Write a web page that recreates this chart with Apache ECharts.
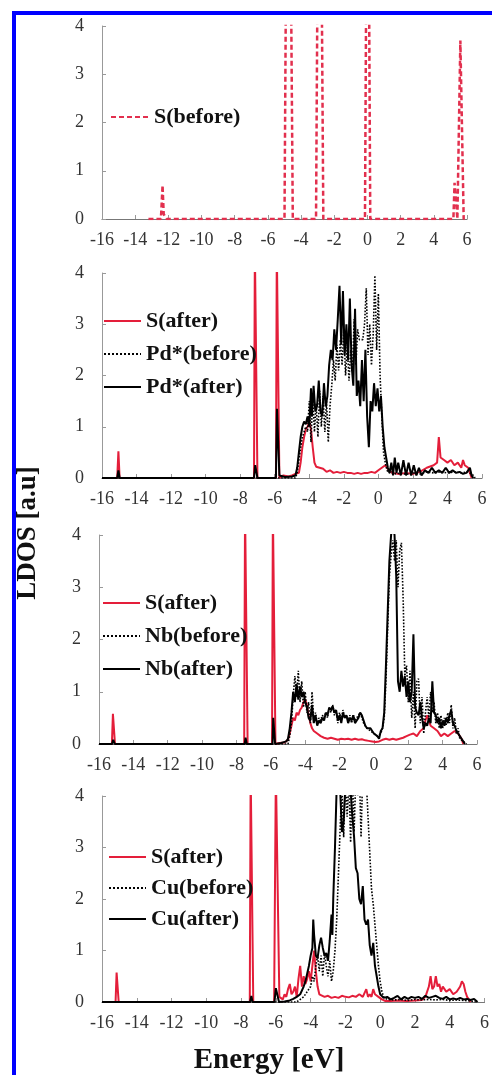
<!DOCTYPE html>
<html><head><meta charset="utf-8">
<script src="https://cdn.jsdelivr.net/npm/echarts@6/dist/echarts.min.js"></script>
<style>html,body{margin:0;padding:0;background:#fff;}#c{width:492px;height:1075px;}</style>
</head><body><div id="c"></div>
<script>
// ---- axis ranges / ticks ----
const X_MIN = -16, X_MAX = 6, X_STEP = 2;
const Y_MIN = 0, Y_MAX = 4, Y_STEP = 1;

// ---- series names ----
const legend1 = ['S(before)'];
const legend2 = ['S(after)', 'Pd*(before)', 'Pd*(after)'];
const legend3 = ['S(after)', 'Nb(before)', 'Nb(after)'];
const legend4 = ['S(after)', 'Cu(before)', 'Cu(after)'];

// ---- panel 1 : S(before) ----
const sBefore = [[-13.2,0],[-12.45,0],[-12.35,0.7],[-12.28,0.1],[-12.2,0.05],[-12.1,0],
 [-5.0,0],[-4.92,4.5],[-4.6,4.5],[-4.5,0],
 [-3.1,0],[-3.02,4.5],[-2.75,4.5],[-2.66,0],
 [-0.15,0],[-0.08,4.5],[0.1,4.5],[0.17,0],
 [5.18,0],[5.25,0.75],[5.35,0.75],[5.42,0],[5.52,0],[5.6,3.7],[5.7,3.7],[5.8,0],[5.85,0]];

// ---- panel 2 : Pd ----
const sAfterPd = [[-16,0],[-15.12,0],[-15.05,0.52],[-14.98,0],[-7.2,0],[-7.15,4.5],[-7.05,4.5],[-7.0,0],
 [-5.93,0],[-5.88,4.5],[-5.78,4.5],[-5.73,0],[-5.5,0.05],[-5.2,0.03],[-5.0,0.05],[-4.8,0.08],[-4.6,0.1],
 [-4.5,0.3],[-4.4,0.6],[-4.3,0.8],[-4.2,0.95],[-4.1,1.0],[-4.0,1.1],[-3.9,0.95],[-3.8,0.6],[-3.7,0.3],
 [-3.6,0.22],[-3.5,0.25],[-3.4,0.2],[-3.2,0.18],[-3.0,0.12],[-2.8,0.15],[-2.6,0.1],[-2.4,0.12],[-2.2,0.1],
 [-2.0,0.12],[-1.8,0.1],[-1.6,0.1],[-1.4,0.08],[-1.2,0.1],[-1.0,0.08],[-0.8,0.1],[-0.6,0.1],[-0.4,0.12],
 [-0.2,0.1],[0.0,0.15],[0.2,0.2],[0.4,0.25],[0.6,0.15],[0.8,0.1],[1.2,0.08],[1.6,0.1],[2.0,0.08],[2.4,0.12],
 [2.8,0.2],[3.2,0.25],[3.4,0.3],[3.5,0.8],[3.6,0.4],[3.8,0.35],[4.0,0.3],[4.2,0.35],[4.4,0.25],[4.6,0.3],
 [4.8,0.2],[4.9,0.35],[5.0,0.25],[5.2,0.2],[5.3,0.1],[5.4,0]];
const pdBefore = [[-16,0],[-4.8,0],[-4.7,0.1],[-4.6,0.35],[-4.5,0.6],[-4.4,0.8],[-4.3,0.9],[-4.2,1.0],[-4.1,0.9],
 [-4.0,1.5],[-3.9,0.7],[-3.8,1.6],[-3.7,0.9],[-3.6,1.45],[-3.5,0.8],[-3.4,1.7],[-3.3,1.0],[-3.2,1.6],[-3.1,0.9],
 [-3.0,1.5],[-2.9,0.7],[-2.8,1.4],[-2.7,1.8],[-2.6,2.3],[-2.5,1.9],[-2.4,2.6],[-2.3,2.1],[-2.2,2.7],[-2.1,2.2],
 [-2.0,2.9],[-1.9,2.0],[-1.8,2.6],[-1.7,1.9],[-1.6,2.5],[-1.5,2.1],[-1.4,3.1],[-1.3,2.2],[-1.2,2.9],[-1.1,2.7],
 [-1.0,2.7],[-0.9,2.7],[-0.8,3.0],[-0.7,3.7],[-0.6,2.4],[-0.5,3.0],[-0.4,2.2],[-0.3,2.8],[-0.2,3.95],[-0.1,2.5],
 [0.0,3.6],[0.1,2.0],[0.2,1.2],[0.3,0.5],[0.4,0.3],[0.5,0.15],[0.6,0.1],[0.8,0.12],[1.0,0.08],[1.3,0.1],[1.6,0.07],
 [2.0,0.1],[2.4,0.08],[2.8,0.12],[3.2,0.1],[3.6,0.12],[4.0,0.1],[4.4,0.12],[4.8,0.1],[5.2,0.12],[5.5,0.05],[5.6,0]];
const pdAfter = [[-16,0],[-15.12,0],[-15.05,0.15],[-14.98,0],[-7.2,0],[-7.13,0.25],[-7.07,0.25],[-7.0,0],
 [-5.93,0],[-5.87,1.35],[-5.79,1.35],[-5.73,0.05],[-5.4,0.02],[-5.0,0.03],[-4.8,0.05],[-4.7,0.2],[-4.6,0.5],
 [-4.5,0.8],[-4.4,1.0],[-4.3,1.1],[-4.2,1.05],[-4.1,1.2],[-4.0,1.0],[-3.9,1.75],[-3.85,1.2],[-3.75,1.8],
 [-3.65,1.3],[-3.55,1.4],[-3.45,1.9],[-3.35,1.3],[-3.25,1.2],[-3.15,1.85],[-3.05,1.4],[-2.95,1.6],[-2.85,2.2],
 [-2.75,2.5],[-2.65,2.3],[-2.55,2.9],[-2.45,2.5],[-2.35,3.1],[-2.25,3.75],[-2.15,2.6],[-2.05,3.65],[-1.95,2.4],
 [-1.85,3.0],[-1.75,2.3],[-1.65,3.5],[-1.55,2.2],[-1.45,1.8],[-1.35,3.3],[-1.25,1.6],[-1.15,1.9],[-1.05,1.4],
 [-0.95,2.3],[-0.85,1.5],[-0.75,2.5],[-0.65,1.2],[-0.55,0.6],[-0.45,1.5],[-0.35,1.3],[-0.25,1.85],[-0.15,1.4],
 [-0.05,1.75],[0.05,1.3],[0.15,1.6],[0.25,1.0],[0.35,0.6],[0.45,0.4],[0.55,0.2],[0.65,0.1],[0.75,0.3],[0.85,0.05],
 [0.95,0.4],[1.05,0.1],[1.15,0.3],[1.3,0.05],[1.45,0.35],[1.6,0.05],[1.75,0.3],[1.9,0.05],[2.05,0.25],[2.2,0.05],
 [2.35,0.2],[2.5,0.05],[2.7,0.15],[2.9,0.1],[3.1,0.2],[3.3,0.1],[3.5,0.15],[3.7,0.1],[3.9,0.2],[4.1,0.1],[4.3,0.15],
 [4.5,0.1],[4.7,0.12],[4.9,0.08],[5.1,0.1],[5.3,0.2],[5.4,0.05],[5.5,0]];

// ---- panel 3 : Nb ----
const sAfterNb = [[-16,0],[-15.25,0],[-15.19,0.58],[-15.13,0.58],[-15.07,0],[-7.55,0],[-7.5,4.5],[-7.4,4.5],[-7.35,0],
 [-5.93,0],[-5.88,4.5],[-5.78,4.5],[-5.73,0],[-5.5,0.02],[-5.2,0.03],[-5.0,0.08],[-4.9,0.2],[-4.8,0.35],[-4.7,0.5],
 [-4.6,0.45],[-4.5,0.6],[-4.4,0.55],[-4.3,0.65],[-4.2,0.7],[-4.1,0.8],[-4.0,0.85],[-3.9,0.75],[-3.8,0.55],[-3.7,0.4],
 [-3.6,0.3],[-3.5,0.25],[-3.4,0.28],[-3.3,0.2],[-3.1,0.15],[-2.9,0.12],[-2.7,0.1],[-2.5,0.12],[-2.3,0.1],[-2.1,0.08],
 [-1.9,0.1],[-1.7,0.09],[-1.5,0.1],[-1.3,0.08],[-1.1,0.1],[-0.9,0.08],[-0.7,0.09],[-0.5,0.07],[-0.3,0.06],[-0.1,0.05],
 [0.1,0.04],[0.3,0.05],[0.5,0.08],[0.7,0.1],[0.9,0.08],[1.1,0.1],[1.3,0.08],[1.5,0.1],[1.7,0.12],[1.9,0.15],[2.1,0.18],
 [2.3,0.2],[2.5,0.15],[2.7,0.25],[2.9,0.3],[3.0,0.45],[3.1,0.55],[3.2,0.45],[3.3,0.35],[3.5,0.3],[3.7,0.25],[3.9,0.15],
 [4.1,0.2],[4.3,0.15],[4.5,0.2],[4.7,0.25],[4.9,0.2],[5.1,0.1],[5.2,0]];
const nbBefore = [[-16,0],[-5.0,0],[-4.9,0.15],[-4.8,0.4],[-4.7,0.9],[-4.6,1.3],[-4.5,0.9],[-4.4,1.4],[-4.3,0.8],
 [-4.2,1.2],[-4.1,0.7],[-4.0,1.0],[-3.9,0.6],[-3.8,0.8],[-3.7,0.4],[-3.6,1.0],[-3.5,0.45],[-3.4,0.6],[-3.3,0.4],
 [-3.2,0.5],[-3.1,0.45],[-3.0,0.55],[-2.9,0.5],[-2.8,0.6],[-2.7,0.5],[-2.6,0.7],[-2.5,0.6],[-2.4,0.75],[-2.3,0.55],
 [-2.2,0.65],[-2.1,0.4],[-2.0,0.6],[-1.9,0.45],[-1.8,0.65],[-1.7,0.5],[-1.6,0.55],[-1.5,0.45],[-1.4,0.55],[-1.3,0.4],
 [-1.2,0.55],[-1.1,0.45],[-1.0,0.5],[-0.9,0.55],[-0.8,0.6],[-0.7,0.5],[-0.6,0.4],[-0.5,0.35],[-0.4,0.3],[-0.3,0.3],
 [-0.2,0.25],[-0.1,0.22],[0.0,0.2],[0.1,0.18],[0.2,0.15],[0.3,0.12],[0.4,0.2],[0.5,0.3],[0.6,0.5],[0.7,1.2],[0.8,2.2],
 [0.9,3.2],[1.0,3.6],[1.1,3.9],[1.2,3.5],[1.3,3.9],[1.4,3.0],[1.5,3.7],[1.6,3.85],[1.7,2.8],[1.8,1.3],[1.9,1.5],
 [2.0,0.8],[2.1,1.4],[2.2,0.5],[2.3,1.0],[2.4,0.3],[2.5,1.2],[2.6,1.25],[2.7,0.4],[2.8,0.9],[2.9,0.2],[3.0,0.6],
 [3.1,0.9],[3.2,0.5],[3.3,1.0],[3.4,0.6],[3.5,0.8],[3.6,0.4],[3.7,0.6],[3.8,0.3],[3.9,0.55],[4.0,0.3],[4.1,0.5],
 [4.2,0.35],[4.3,0.6],[4.4,0.4],[4.5,0.75],[4.6,0.3],[4.7,0.5],[4.8,0.2],[4.9,0.3],[5.0,0.1],[5.2,0.05],[5.4,0]];
const nbAfter = [[-16,0],[-15.25,0],[-15.17,0.08],[-15.08,0],[-7.52,0],[-7.47,0.12],[-7.4,0],[-5.9,0],[-5.86,0.5],
 [-5.8,0.5],[-5.75,0],[-5.4,0.02],[-5.1,0.05],[-5.0,0.1],[-4.9,0.3],[-4.8,0.6],[-4.7,1.0],[-4.6,0.8],[-4.5,1.15],
 [-4.4,0.85],[-4.3,1.1],[-4.2,0.9],[-4.1,1.0],[-4.0,0.8],[-3.9,0.7],[-3.8,0.5],[-3.7,0.45],[-3.6,0.75],[-3.5,0.4],
 [-3.4,0.55],[-3.3,0.35],[-3.2,0.45],[-3.1,0.4],[-3.0,0.5],[-2.9,0.45],[-2.8,0.6],[-2.7,0.55],[-2.6,0.7],[-2.5,0.65],
 [-2.4,0.72],[-2.3,0.6],[-2.2,0.65],[-2.1,0.45],[-2.0,0.55],[-1.9,0.4],[-1.8,0.6],[-1.7,0.5],[-1.6,0.55],[-1.5,0.4],
 [-1.4,0.5],[-1.3,0.45],[-1.2,0.55],[-1.1,0.4],[-1.0,0.45],[-0.9,0.5],[-0.8,0.6],[-0.7,0.55],[-0.6,0.45],[-0.5,0.35],
 [-0.4,0.3],[-0.3,0.28],[-0.2,0.3],[-0.1,0.25],[0.0,0.2],[0.1,0.2],[0.2,0.15],[0.3,0.1],[0.4,0.25],[0.5,0.3],
 [0.6,0.6],[0.7,1.5],[0.8,2.5],[0.9,3.5],[1.0,4.0],[1.1,4.2],[1.2,4.0],[1.3,3.2],[1.4,1.2],[1.5,1.0],[1.6,1.4],
 [1.7,1.1],[1.8,1.3],[1.9,0.9],[2.0,1.2],[2.1,0.8],[2.2,1.0],[2.3,2.1],[2.4,0.7],[2.5,0.6],[2.6,0.55],[2.7,0.8],
 [2.8,0.5],[2.9,0.3],[3.0,0.4],[3.1,0.35],[3.2,0.5],[3.3,0.4],[3.4,1.2],[3.5,0.6],[3.6,0.55],[3.7,0.4],[3.8,0.5],
 [3.9,0.3],[4.0,0.45],[4.1,0.35],[4.2,0.5],[4.3,0.4],[4.4,0.55],[4.5,0.65],[4.6,0.4],[4.7,0.35],[4.8,0.25],[4.9,0.2],
 [5.0,0.15],[5.1,0.1],[5.2,0.05],[5.3,0]];

// ---- panel 4 : Cu ----
const sAfterCu = [[-16,0],[-15.22,0],[-15.16,0.57],[-15.1,0.57],[-15.04,0],[-7.5,0],[-7.45,4.5],[-7.35,4.5],[-7.3,0],
 [-6.1,0],[-6.0,4.5],[-5.9,4.5],[-5.8,0.1],[-5.6,0.05],[-5.5,0.15],[-5.4,0.1],[-5.3,0.25],[-5.2,0.35],[-5.1,0.15],
 [-5.0,0.2],[-4.9,0.3],[-4.8,0.1],[-4.7,0.45],[-4.6,0.7],[-4.5,0.3],[-4.4,0.5],[-4.3,0.35],[-4.2,0.45],[-4.1,0.6],
 [-4.0,0.4],[-3.9,0.7],[-3.8,1.0],[-3.7,0.6],[-3.6,0.3],[-3.5,0.15],[-3.4,0.12],[-3.2,0.1],[-3.0,0.12],[-2.8,0.08],
 [-2.6,0.1],[-2.4,0.08],[-2.2,0.12],[-2.0,0.1],[-1.8,0.09],[-1.6,0.12],[-1.4,0.1],[-1.2,0.15],[-1.0,0.1],[-0.8,0.25],
 [-0.7,0.1],[-0.6,0.15],[-0.5,0.1],[-0.4,0.25],[-0.3,0.15],[-0.1,0.1],[0.1,0.05],[0.3,0.02],[0.6,0.02],[1.0,0.03],
 [1.5,0.02],[2.0,0.03],[2.4,0.04],[2.6,0.1],[2.8,0.3],[2.9,0.5],[3.0,0.25],[3.1,0.3],[3.2,0.5],[3.3,0.3],[3.4,0.35],
 [3.5,0.2],[3.6,0.3],[3.7,0.25],[3.8,0.2],[4.0,0.25],[4.2,0.15],[4.4,0.2],[4.6,0.3],[4.7,0.4],[4.8,0.35],[4.9,0.2],
 [5.0,0.1],[5.2,0]];
const cuBefore = [[-16,0],[-4.8,0],[-4.6,0.05],[-4.4,0.1],[-4.2,0.2],[-4.0,0.3],[-3.9,0.5],[-3.8,0.4],[-3.7,0.7],
 [-3.6,0.9],[-3.5,0.6],[-3.4,0.9],[-3.3,0.5],[-3.2,0.95],[-3.1,0.7],[-3.0,0.5],[-2.9,0.8],[-2.8,0.4],[-2.7,0.6],
 [-2.6,1.0],[-2.5,1.6],[-2.4,2.5],[-2.3,3.4],[-2.2,4.2],[-2.1,3.2],[-2.0,4.4],[-1.9,3.6],[-1.8,4.3],[-1.7,3.1],
 [-1.6,4.5],[-1.5,3.3],[-1.4,4.4],[-1.3,4.0],[-1.2,4.5],[-1.1,3.2],[-1.0,4.5],[-0.9,4.2],[-0.8,4.3],[-0.7,3.6],
 [-0.6,2.9],[-0.5,2.2],[-0.4,1.9],[-0.3,1.5],[-0.2,1.1],[-0.1,0.7],[0.0,0.4],[0.1,0.2],[0.2,0.1],[0.4,0.05],
 [0.8,0.04],[1.2,0.05],[1.6,0.03],[2.0,0.05],[2.4,0.04],[2.8,0.05],[3.2,0.04],[3.6,0.05],[4.0,0.03],[4.4,0.04],
 [4.8,0.03],[5.2,0.02],[5.5,0]];
const cuAfter = [[-16,0],[-15.2,0],[-15.12,0.03],[-15.05,0],[-7.48,0],[-7.41,0.12],[-7.34,0],[-6.08,0],[-6.0,0.27],
 [-5.92,0.25],[-5.82,0],[-5.5,0.01],[-5.2,0.03],[-5.0,0.06],[-4.8,0.1],[-4.6,0.15],[-4.4,0.3],[-4.3,0.4],[-4.2,0.55],
 [-4.1,0.7],[-4.0,0.9],[-3.9,1.05],[-3.85,1.6],[-3.8,1.3],[-3.7,0.9],[-3.6,0.85],[-3.5,1.1],[-3.4,1.25],[-3.3,1.05],
 [-3.2,0.9],[-3.1,0.95],[-3.0,0.8],[-2.9,1.2],[-2.8,1.7],[-2.75,1.3],[-2.7,2.0],[-2.6,3.0],[-2.5,4.2],[-2.4,4.5],
 [-2.3,4.1],[-2.2,3.3],[-2.1,3.5],[-2.0,4.2],[-1.9,4.5],[-1.8,4.3],[-1.7,4.1],[-1.6,3.6],[-1.5,3.2],[-1.4,2.6],
 [-1.3,2.5],[-1.2,2.0],[-1.1,1.9],[-1.0,2.25],[-0.9,1.6],[-0.8,1.5],[-0.7,1.6],[-0.6,1.1],[-0.5,0.9],[-0.4,1.15],
 [-0.3,0.7],[-0.2,0.5],[-0.1,0.3],[0.0,0.15],[0.2,0.08],[0.4,0.1],[0.6,0.05],[0.8,0.08],[1.0,0.12],[1.2,0.05],
 [1.4,0.1],[1.6,0.06],[1.8,0.1],[2.0,0.08],[2.2,0.1],[2.4,0.06],[2.6,0.12],[2.8,0.08],[3.0,0.1],[3.2,0.12],[3.4,0.08],
 [3.6,0.06],[3.8,0.1],[4.0,0.05],[4.2,0.07],[4.4,0.05],[4.6,0.08],[4.8,0.05],[5.0,0.06],[5.2,0.04],[5.4,0.06],[5.6,0]];

// ---- styling ----
const SERIF = '"Liberation Serif","Times New Roman",serif';
const RED = '#e41e3a', RED_DASH = '#e2304e', BLACK = '#000', BLUE = '#0000ff';

const grids = [
  {left:102, top:26,  width:365, height:193},
  {left:102, top:273, width:380, height:205},
  {left:99,  top:535, width:378, height:209},
  {left:102, top:796, width:386, height:206}
];

function xAxis(i){
  return {gridIndex:i, type:'value', min:X_MIN, max:X_MAX, interval:X_STEP,
    axisLine:{show:true, onZero:false, lineStyle:{color:'#777', width:1.2}},
    axisTick:{show:true, inside:true, length:4, lineStyle:{color:'#999'}},
    splitLine:{show:false},
    axisLabel:{margin:12, fontFamily:SERIF, fontSize:18, color:'#333', showMinLabel:true, showMaxLabel:true}};
}
function yAxis(i){
  return {gridIndex:i, type:'value', min:Y_MIN, max:Y_MAX, interval:Y_STEP,
    axisLine:{show:true, onZero:false, lineStyle:{color:'#999', width:1}},
    axisTick:{show:true, inside:true, length:4, lineStyle:{color:'#999'}},
    splitLine:{show:false},
    axisLabel:{margin:18, fontFamily:SERIF, fontSize:18, color:'#333'}};
}
function line(name, i, data, color, width, type){
  return {name:name, type:'line', xAxisIndex:i, yAxisIndex:i, data:data, symbol:'none', showSymbol:false,
    color:color, clip:true, animation:false, lineStyle:{color:color, width:width, type:type}};
}
function legend(i, names, left, top, iw, gap){
  return {show:true, orient:'vertical', left:left, top:top, padding:0, itemWidth:iw, itemHeight:12, itemGap:gap,
    selectedMode:false, data:names, itemStyle:{opacity:0, borderWidth:0},
    textStyle:{fontFamily:SERIF, fontWeight:'bold', fontSize:22, color:'#111'}};
}

const option = {
  backgroundColor:'#fff',
  animation:false,
  grid: grids,
  xAxis: [0,1,2,3].map(xAxis),
  yAxis: [0,1,2,3].map(yAxis),
  legend: [
    legend(0, legend1, 110, 106, 38, 11),
    legend(1, legend2, 103, 310, 37, 11),
    legend(2, legend3, 102, 592, 37, 11),
    legend(3, legend4, 108, 846, 37, 9)
  ],
  series: [
    line(legend1[0], 0, sBefore, RED_DASH, 2.5, [5,3]),
    line(legend2[0], 1, sAfterPd, RED, 2, 'solid'),
    line(legend2[1], 1, pdBefore, BLACK, 1.6, 'dotted'),
    line(legend2[2], 1, pdAfter, BLACK, 2, 'solid'),
    line(legend3[0], 2, sAfterNb, RED, 2, 'solid'),
    line(legend3[1], 2, nbBefore, BLACK, 1.6, 'dotted'),
    line(legend3[2], 2, nbAfter, BLACK, 2, 'solid'),
    line(legend4[0], 3, sAfterCu, RED, 2, 'solid'),
    line(legend4[1], 3, cuBefore, BLACK, 1.6, 'dotted'),
    line(legend4[2], 3, cuAfter, BLACK, 2, 'solid')
  ],
  graphic: [
    {type:'rect', shape:{x:12, y:11, width:480, height:4}, style:{fill:BLUE}, silent:true},
    {type:'rect', shape:{x:12, y:11, width:4, height:1064}, style:{fill:BLUE}, silent:true},
    {type:'text', x:28, y:533, rotation:Math.PI/2,
      style:{text:'LDOS [a.u]', font:'bold 27px ' + SERIF, fill:'#111', align:'center', verticalAlign:'middle'}},
    {type:'text', x:269, y:1061,
      style:{text:'Energy [eV]', font:'bold 29px ' + SERIF, fill:'#111', align:'center', verticalAlign:'middle'}}
  ]
};

const chart = echarts.init(document.getElementById('c'), null, {renderer:'canvas'});
chart.setOption(option);
</script>
</body></html>
